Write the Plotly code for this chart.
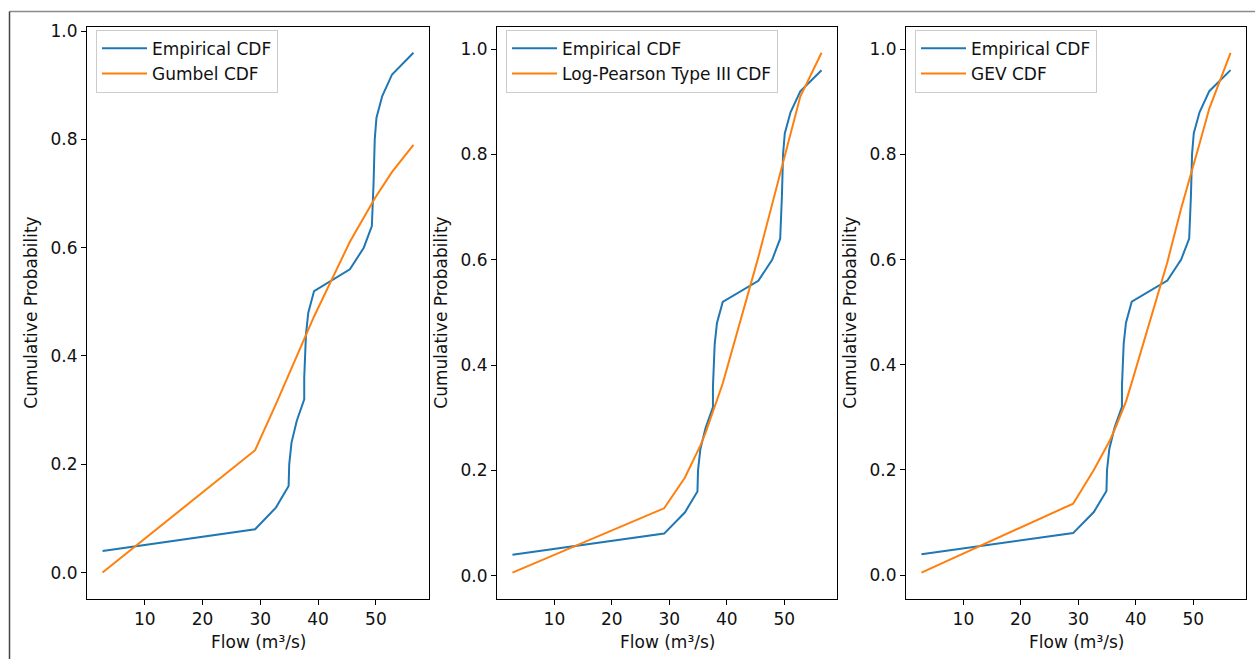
import plotly.graph_objects as go

# ---- data ----
flow_sorted = [2.7, 29.1, 32.7, 34.9, 35.0, 35.4, 36.3, 37.6, 37.6, 37.7, 37.9, 38.3,
               39.3, 45.5, 47.9, 49.3, 49.5, 49.6, 49.7, 49.8, 50.1, 51.1, 52.8, 56.5]
empirical_cdf = [0.04, 0.08, 0.12, 0.16, 0.20, 0.24, 0.28, 0.32, 0.36, 0.40, 0.44, 0.48,
                 0.52, 0.56, 0.60, 0.64, 0.68, 0.72, 0.76, 0.80, 0.84, 0.88, 0.92, 0.96]
gumbel_cdf = [0.000, 0.226, 0.311, 0.365, 0.368, 0.378, 0.400, 0.432, 0.432, 0.434, 0.439, 0.449,
              0.473, 0.611, 0.657, 0.683, 0.686, 0.688, 0.690, 0.691, 0.696, 0.713, 0.740, 0.790]
lp3_cdf = [0.006, 0.128, 0.186, 0.234, 0.237, 0.247, 0.271, 0.310, 0.310, 0.313, 0.319, 0.332,
           0.365, 0.605, 0.706, 0.766, 0.775, 0.779, 0.784, 0.788, 0.800, 0.843, 0.910, 0.993]
gev_cdf = [0.005, 0.136, 0.200, 0.243, 0.245, 0.254, 0.276, 0.310, 0.310, 0.313, 0.319, 0.330,
           0.366, 0.595, 0.697, 0.753, 0.760, 0.764, 0.768, 0.772, 0.783, 0.820, 0.887, 0.993]

fit_names = ["Gumbel CDF", "Log-Pearson Type III CDF", "GEV CDF"]
fit_values = [gumbel_cdf, lp3_cdf, gev_cdf]
x_ticks = [10, 20, 30, 40, 50]
y_ticks = [0.0, 0.2, 0.4, 0.6, 0.8, 1.0]
x_title = "Flow (m³/s)"
y_title = "Cumulative Probability"

# ---- layout geometry (pixels) ----
W, H = 1255, 659
panels_px = [(87, 429), (497, 837), (906, 1246)]
top_px, bottom_px = 21, 598
BLUE, ORANGE = "#1f77b4", "#ff7f0e"
FONT = "DejaVu Sans"
FS = 17

def px_x(v):
    return v / W

def px_y(v):
    return (H - v) / H

def padded(lo, hi, frac=0.05):
    r = hi - lo
    return [lo - frac * r, hi + frac * r]

fig = go.Figure()
layout = dict(
    width=W, height=H, margin=dict(l=0, r=0, t=0, b=0),
    paper_bgcolor="white", plot_bgcolor="white",
    font=dict(family=FONT, size=FS, color="black"),
    showlegend=True, annotations=[], shapes=[],
)

xr = padded(min(flow_sorted), max(flow_sorted))
for i, (name, vals) in enumerate(zip(fit_names, fit_values)):
    k = "" if i == 0 else str(i + 1)
    leg = "legend" if i == 0 else f"legend{i + 1}"
    fig.add_trace(go.Scatter(x=flow_sorted, y=empirical_cdf, mode="lines", name="Empirical CDF",
                             line=dict(color=BLUE, width=2), xaxis="x" + k, yaxis="y" + k,
                             legend=leg, legendgroup=f"e{i}"))
    fig.add_trace(go.Scatter(x=flow_sorted, y=vals, mode="lines", name=name,
                             line=dict(color=ORANGE, width=2), xaxis="x" + k, yaxis="y" + k,
                             legend=leg, legendgroup=f"f{i}"))
    x0, x1 = panels_px[i]
    yr = padded(min(min(vals), min(empirical_cdf)), max(max(vals), max(empirical_cdf)))
    axis_common = dict(showline=True, linecolor="black", linewidth=1, mirror=True,
                       ticks="outside", ticklen=5, tickwidth=1, tickcolor="black",
                       showgrid=False, zeroline=False,
                       tickfont=dict(family=FONT, size=FS, color="#111111"))
    layout["xaxis" + k] = dict(domain=[px_x(x0), px_x(x1)], anchor="y" + k, range=xr,
                               tickvals=x_ticks, ticktext=[str(t) for t in x_ticks], **axis_common)
    layout["yaxis" + k] = dict(domain=[px_y(bottom_px), px_y(top_px)], anchor="x" + k, range=yr,
                               tickvals=y_ticks, ticktext=[f"{t:.1f}" for t in y_ticks], **axis_common)
    layout[leg] = dict(x=px_x(x0 + 9), y=px_y(top_px + 3), xanchor="left", yanchor="top",
                       bgcolor="rgba(255,255,255,0.8)", bordercolor="#cccccc", borderwidth=1,
                       font=dict(family=FONT, size=FS, color="#111111"),
                       traceorder="grouped", tracegroupgap=0, itemwidth=45)
    layout["annotations"].append(dict(text=x_title, x=px_x((x0 + x1) / 2), y=px_y(642),
                                      xref="paper", yref="paper", showarrow=False,
                                      xanchor="center", yanchor="middle",
                                      font=dict(family=FONT, size=FS, color="#111111")))
    layout["annotations"].append(dict(text=y_title, x=px_x(x0 - 56), y=px_y((top_px + bottom_px) / 2),
                                      xref="paper", yref="paper", showarrow=False, textangle=-90,
                                      xanchor="center", yanchor="middle",
                                      font=dict(family=FONT, size=FS, color="#111111")))

# outer screenshot frame lines
layout["shapes"].append(dict(type="line", xref="paper", yref="paper",
                             x0=px_x(9.5), x1=1, y0=px_y(5.5), y1=px_y(5.5),
                             line=dict(color="#8a8a8a", width=1.5)))
layout["shapes"].append(dict(type="line", xref="paper", yref="paper",
                             x0=px_x(9.5), x1=px_x(9.5), y0=0, y1=px_y(5.5),
                             line=dict(color="#444444", width=1.5)))

fig.update_layout(**layout)
fig.write_html("out.html")
